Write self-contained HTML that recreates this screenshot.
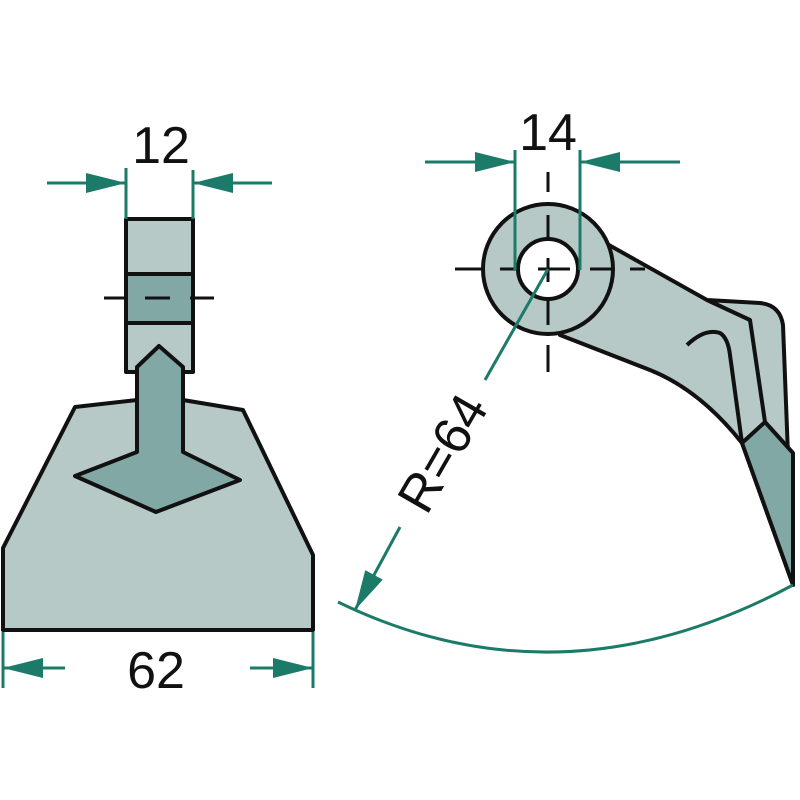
<!DOCTYPE html>
<html><head><meta charset="utf-8"><style>html,body{margin:0;padding:0;background:#fff}svg{display:block}</style></head>
<body>
<svg width="800" height="800" viewBox="0 0 800 800" xmlns="http://www.w3.org/2000/svg">
<defs>
<marker id="ah" viewBox="0 0 40 20" refX="40" refY="10" markerWidth="40" markerHeight="20" markerUnits="userSpaceOnUse" orient="auto">
<path d="M0,0 L40,10 L0,20 Z" fill="#1b7a68"/>
</marker>
</defs>
<g stroke="#111" stroke-width="4" stroke-linejoin="round">
<!-- left part -->
<path d="M3,548 L75,407 L137,400 L183,400 L243,410 L313,555 L313,630 L3,630 Z" fill="#b6c9c7"/>
<rect x="126" y="219" width="67" height="153" fill="#b6c9c7"/>
<rect x="126" y="274" width="67" height="49" fill="#82a8a5"/>
<path d="M159,346 L183,367 L183,452 L240,480 L156,512 L75,476 L137,452 L137,367 Z" fill="#82a8a5"/>
</g>
<g stroke="#111" stroke-width="3">
<line x1="104" y1="298" x2="125" y2="298"/>
<line x1="145" y1="298" x2="170" y2="298"/>
<line x1="190" y1="298" x2="214" y2="298"/>
</g>
<!-- right part -->
<g stroke="#111" stroke-width="4" stroke-linejoin="round">
<path d="M600,240 L707,300 L760,303 Q780,305 783,325 L793,585 L742,443 Q700,390 650,370 L560,335 Z" fill="#b6c9c7"/>
<path d="M742,443 L765,422 L793,453 L793,585 Z" fill="#82a8a5"/>
<path d="M707,300 L750,320 L765,422" fill="none"/>
<path d="M687,345 Q705,328 720,333 Q728,338 730,355 L742,443" fill="none"/>
<circle cx="548" cy="269" r="65" fill="#b6c9c7"/>
<circle cx="548" cy="269" r="30" fill="#fff"/>
</g>
<g stroke="#111" stroke-width="3">
<line x1="455" y1="269" x2="482" y2="269"/>
<line x1="500" y1="269" x2="520" y2="269"/>
<line x1="538" y1="269" x2="570" y2="269"/>
<line x1="590" y1="269" x2="614" y2="269"/>
<line x1="630" y1="269" x2="645" y2="269"/>
<line x1="548" y1="172" x2="548" y2="192"/>
<line x1="548" y1="215" x2="548" y2="240"/>
<line x1="548" y1="258" x2="548" y2="282"/>
<line x1="548" y1="300" x2="548" y2="325"/>
<line x1="548" y1="345" x2="548" y2="372"/>
</g>
<!-- dimensions -->
<g stroke="#1b7a68" stroke-width="3" fill="none">
<line x1="126" y1="168" x2="126" y2="219"/>
<line x1="193" y1="170" x2="193" y2="219"/>
<line x1="47" y1="183" x2="126" y2="183" marker-end="url(#ah)"/>
<line x1="272" y1="183" x2="193" y2="183" marker-end="url(#ah)"/>
<line x1="3" y1="632" x2="3" y2="688"/>
<line x1="313" y1="632" x2="313" y2="688"/>
<line x1="65" y1="668" x2="3" y2="668" marker-end="url(#ah)"/>
<line x1="250" y1="668" x2="313" y2="668" marker-end="url(#ah)"/>
<line x1="515" y1="150" x2="515" y2="270"/>
<line x1="580" y1="150" x2="580" y2="270"/>
<line x1="425" y1="162" x2="515" y2="162" marker-end="url(#ah)"/>
<line x1="680" y1="162" x2="580" y2="162" marker-end="url(#ah)"/>
<line x1="548" y1="269" x2="485" y2="380"/>
<line x1="400" y1="527" x2="355" y2="610" marker-end="url(#ah)"/>
<path d="M338,602 Q560,710 793,585"/>
</g>
<g font-family="Liberation Sans, sans-serif" font-size="52" fill="#111" text-anchor="middle">
<text x="161" y="163">12</text>
<text x="548" y="150">14</text>
<text x="156" y="688">62</text>
<text x="0" y="0" transform="translate(458,462) rotate(-60)">R=64</text>
</g>
</svg>
</body></html>
